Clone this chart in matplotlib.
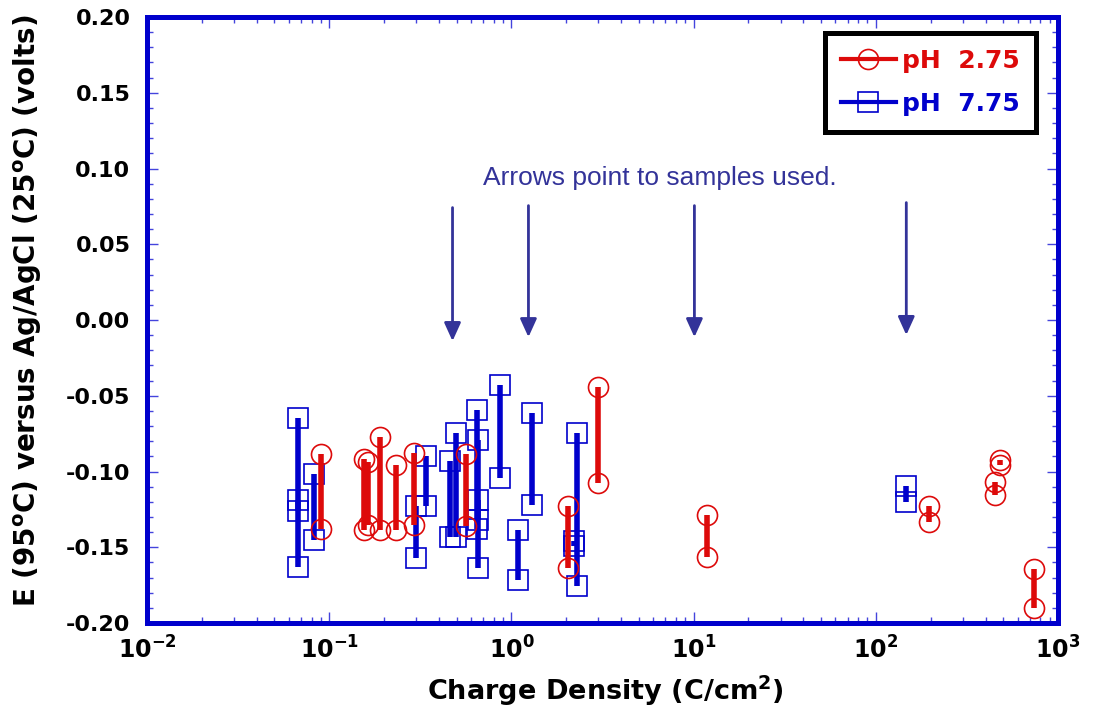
import matplotlib
matplotlib.use("Agg")
import matplotlib.pyplot as plt
import numpy as np
from matplotlib.lines import Line2D
from matplotlib.ticker import FixedLocator, FuncFormatter, LogLocator, NullFormatter

plt.rcParams['axes.unicode_minus'] = False

# pH 7.75 samples: charge density and the two potentials of each bar
blue_x = [0.0670, 0.0670, 0.0823, 0.2985, 0.339, 0.4587, 0.495, 0.645,
          0.659, 0.659, 0.863, 1.083, 1.292, 2.28, 2.216, 147.0]
blue_top = [-0.0645, -0.1185, -0.1015, -0.1225, -0.0896, -0.093, -0.0745, -0.0594,
            -0.0793, -0.1185, -0.0428, -0.1389, -0.0611, -0.0745, -0.146, -0.1097]
blue_bot = [-0.163, -0.126, -0.145, -0.157, -0.1225, -0.143, -0.143, -0.138,
            -0.164, -0.132, -0.104, -0.1715, -0.1219, -0.1755, -0.1495, -0.1203]

# pH 2.75 samples
red_x = [0.0904, 0.1556, 0.1622, 0.191, 0.233, 0.2925, 0.5613, 2.036,
         2.975, 11.79, 195.6, 450.0, 479.5, 736.0]
red_top = [-0.0883, -0.092, -0.0938, -0.0773, -0.0954, -0.0876, -0.0883, -0.1225,
           -0.0439, -0.1285, -0.123, -0.1068, -0.0925, -0.1642]
red_bot = [-0.138, -0.1384, -0.1355, -0.1384, -0.1384, -0.1356, -0.136, -0.1638,
           -0.1075, -0.1565, -0.1333, -0.1152, -0.0954, -0.1903]

# arrows marking the samples that were used
arrow_x = [0.475, 1.24, 10.1, 147.0]
arrow_top = [0.0742, 0.0755, 0.0755, 0.0775]
arrow_tip = [-0.0139, -0.0113, -0.0113, -0.0099]

ytick_vals = [-0.20, -0.15, -0.10, -0.05, 0.00, 0.05, 0.10, 0.15, 0.20]

red = '#dd0a0a'
blue = '#0000cc'
frame = '#0000cc'
arrow_col = '#333399'

fig = plt.figure(figsize=(10.99, 7.09), dpi=100)
ax = fig.add_axes([0.1338, 0.1213, 0.8289, 0.8547])

for x, a, b in zip(blue_x, blue_top, blue_bot):
    ax.plot([x, x], [a, b], color=blue, lw=4, solid_capstyle='butt',
            marker='s', ms=14.4, mfc='none', mec=blue, mew=1.2)
for x, a, b in zip(red_x, red_top, red_bot):
    ax.plot([x, x], [a, b], color=red, lw=4, solid_capstyle='butt',
            marker='o', ms=14.4, mfc='none', mec=red, mew=1.2)

for x, t, b in zip(arrow_x, arrow_top, arrow_tip):
    ax.annotate('', xy=(x, b), xytext=(x, t),
                arrowprops=dict(arrowstyle='-|>,head_width=0.25,head_length=0.55',
                                color=arrow_col, lw=2, mutation_scale=20,
                                shrinkA=0, shrinkB=0))

ax.text(6.55, 0.0935, 'Arrows point to samples used.', color=arrow_col,
        fontsize=19, family='Liberation Sans', ha='center', va='center')

ax.set_xscale('log')
ax.set_xlim(1e-2, 1e3)
ax.set_ylim(-0.2, 0.2)

ax.yaxis.set_major_locator(FixedLocator(ytick_vals))
ax.yaxis.set_minor_locator(FixedLocator(np.round(np.arange(-0.2, 0.2001, 0.01), 2)))
ax.yaxis.set_major_formatter(FuncFormatter(lambda v, p: '%.2f' % v))
ax.xaxis.set_major_locator(LogLocator(base=10, numticks=10))
ax.xaxis.set_minor_locator(LogLocator(base=10, subs=np.arange(2, 10), numticks=20))
ax.xaxis.set_minor_formatter(NullFormatter())
ax.xaxis.set_major_formatter(FuncFormatter(
    lambda v, p: r'$\mathbf{10^{%d}}$' % int(round(np.log10(v)))))

ax.tick_params(which='both', direction='in', top=True, right=True, color='#4444dd', width=1)
ax.tick_params(which='major', length=8)
ax.tick_params(which='minor', length=4)
ax.tick_params(axis='y', labelsize=16, pad=12)
ax.tick_params(axis='x', labelsize=17, pad=10)
for lab in ax.get_yticklabels():
    lab.set_fontweight('bold')

for s in ax.spines.values():
    s.set_color(frame)
    s.set_linewidth(3.6)

ax.set_xlabel(r'Charge Density (C/cm$^{\mathbf{2}}$)', fontsize=19.5, fontweight='bold')
ax.xaxis.set_label_coords(0.503, -0.083)
ax.set_ylabel(r'E (95$^{\mathbf{o}}$C) versus Ag/AgCl (25$^{\mathbf{o}}$C) (volts)',
              fontsize=20, fontweight='bold')
ax.yaxis.set_label_coords(-0.113, 0.515)

handles = [
    Line2D([], [], color=red, lw=3, marker='o', ms=14.4, mfc='none', mec=red, mew=1.2),
    Line2D([], [], color=blue, lw=3, marker='s', ms=14.4, mfc='none', mec=blue, mew=1.2),
]
leg = ax.legend(handles, ['pH  2.75', 'pH  7.75'], loc='upper right',
                bbox_to_anchor=(0.976, 0.974), borderaxespad=0, fancybox=False,
                framealpha=1, edgecolor='black', handlelength=2.2, handletextpad=0.25,
                borderpad=0.65, labelspacing=0.75,
                prop={'weight': 'bold', 'size': 18})
leg.get_frame().set_linewidth(3.6)
for t, c in zip(leg.get_texts(), [red, blue]):
    t.set_color(c)

fig.savefig('out.png', dpi=100)
